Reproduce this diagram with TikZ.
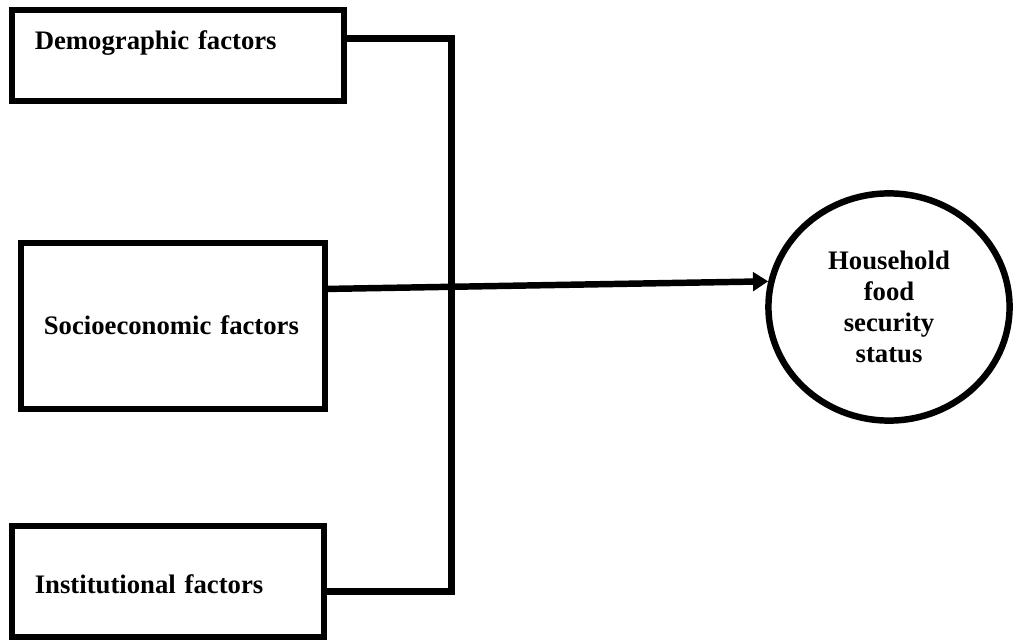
\documentclass[tikz,border=0pt]{standalone}
\usepackage{fontspec}
\setmainfont{Liberation Serif}
\usepackage{tikz}
\usetikzlibrary{
  arrows.meta, positioning, shapes.geometric, calc
}
\definecolor{DK}{RGB}{0,0,0}

\begin{document}
\begin{tikzpicture}[
  factor/.style={draw=DK, line width=4.6pt, outer sep=0pt, anchor=north west,
                 inner xsep=0.57cm, inner ysep=0pt, align=left,
                 font=\fontsize{19}{22}\selectfont\bfseries},
  goal/.style={draw=DK, ellipse, line width=4.6pt, inner sep=0pt,
               minimum width=6.03cm, minimum height=5.68cm,
               align=center, font=\fontsize{19}{22}\selectfont\bfseries},
  conn/.style={draw=DK, line width=4.6pt},
  arr/.style={conn, -{Triangle[length=0.38cm, width=0.46cm]}}
]
\useasboundingbox (0,0) rectangle (25.325,16.075);

% Factors
\node[factor, text width=7.16cm, text height=1.0cm, text depth=1.275cm]
  (demo) at (0.3, 15.825) {Demographic factors};
\node[factor, text width=6.46cm, text height=2.3cm, text depth=1.85cm]
  (socio) at (0.525, 10.0) {Socioeconomic factors};
\node[factor, text width=6.66cm, text height=1.675cm, text depth=1.1cm]
  (inst) at (0.3, 2.925) {Institutional factors};

% Outcome
\node[goal] (hfs) at (22.225, 8.4) {Household\\food\\security\\status};

% Connections
\coordinate (dout) at ($(demo.north east)!0.313!(demo.south east)$);
\coordinate (sout) at ($(socio.north east)!0.277!(socio.south east)$);
\coordinate (iout) at ($(inst.north east)!0.59!(inst.south east)$);
\coordinate (bus) at (11.29, 0);
\draw[conn] (dout) -| (bus |- iout) -- (iout);
\draw[arr] (sout) -- (hfs.168);
\end{tikzpicture}
\end{document}
